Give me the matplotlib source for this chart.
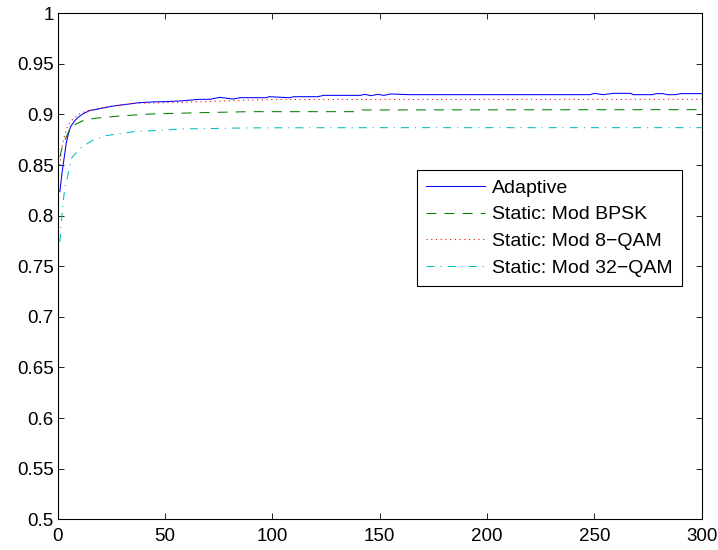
import matplotlib
matplotlib.use("Agg")
import matplotlib.pyplot as plt

plt.rcParams['font.family'] = ['Liberation Sans', 'DejaVu Sans']
plt.rcParams['lines.scale_dashes'] = False

# ---- data ----
adaptive_x = [1, 2, 3, 4, 5, 6, 8, 10, 12, 15, 18, 20, 25, 28, 32, 38, 45, 50, 58, 66, 71, 75.5,
              81.7, 85, 97, 98.6, 108, 110, 121, 124, 141, 143, 146, 149, 152, 155, 164,
              248, 250, 254, 259, 267, 268, 277, 279, 282, 284, 288, 290, 300]
adaptive_y = [0.8237, 0.842, 0.857, 0.872, 0.881, 0.888, 0.894, 0.898, 0.901, 0.904, 0.905, 0.906,
              0.908, 0.909, 0.910, 0.9117, 0.9125, 0.9127, 0.9135, 0.9150, 0.9150, 0.9170,
              0.9153, 0.9166, 0.9166, 0.9176, 0.9166, 0.9176, 0.9176, 0.9189, 0.9189, 0.9199,
              0.9186, 0.9199, 0.9189, 0.9203, 0.9196,
              0.9196, 0.9209, 0.9196, 0.9209, 0.9209, 0.9196, 0.9196, 0.9206, 0.9206, 0.9196,
              0.9196, 0.9206, 0.9206]

bpsk_x = [1, 2, 3.4, 5.7, 8.9, 11.9, 17.4, 30.6, 43, 66.3, 89.6, 139, 141, 300]
bpsk_y = [0.858, 0.867, 0.875, 0.886, 0.891, 0.894, 0.8963, 0.8988, 0.9005, 0.9018, 0.9028,
          0.9028, 0.9045, 0.9048]

qam8_x = [1, 2, 3.4, 4.9, 7.3, 10.4, 15, 22.8, 35, 58.5, 81.7, 100, 300]
qam8_y = [0.850, 0.868, 0.881, 0.890, 0.896, 0.901, 0.9045, 0.9077, 0.911, 0.912, 0.9137,
          0.9148, 0.9150]

qam32_x = [1, 2.3, 3.4, 4.2, 6.5, 10.4, 16.6, 22.8, 35.2, 58.5, 89.6, 150, 300]
qam32_y = [0.774, 0.809, 0.829, 0.835, 0.857, 0.8666, 0.875, 0.8792, 0.883, 0.8857, 0.8868,
           0.8870, 0.8870]

labels = ['Adaptive', 'Static: Mod BPSK', 'Static: Mod 8\u2212QAM', 'Static: Mod 32\u2212QAM']
x_ticks = [0, 50, 100, 150, 200, 250, 300]
y_ticks = [0.5, 0.55, 0.6, 0.65, 0.7, 0.75, 0.8, 0.85, 0.9, 0.95, 1.0]
y_tick_labels = ['0.5', '0.55', '0.6', '0.65', '0.7', '0.75', '0.8', '0.85', '0.9', '0.95', '1']

fig = plt.figure(figsize=(7.18, 5.5), dpi=100)
ax = fig.add_axes([57.7 / 718, 1 - 519.3 / 550, 644 / 718, 506 / 550])

lw = 0.75
ax.plot(adaptive_x, adaptive_y, color=(0, 0, 1), lw=lw, label=labels[0])
ax.plot(bpsk_x, bpsk_y, color=(0, 0.5, 0), lw=lw, linestyle=(0, (7.2, 5.8)), label=labels[1])
ax.plot(qam8_x, qam8_y, color=(1, 0, 0), lw=lw, linestyle=(0, (0.8, 2.6)), label=labels[2])
ax.plot(qam32_x, qam32_y, color=(0, 0.75, 0.75), lw=lw,
        linestyle=(0, (5.8, 4.3, 0.8, 4.3)), label=labels[3])

ax.set_xlim(0, 300)
ax.set_ylim(0.5, 1.0)
ax.set_xticks(x_ticks)
ax.set_xticklabels([str(t) for t in x_ticks])
ax.set_yticks(y_ticks)
ax.set_yticklabels(y_tick_labels)

fs = 13.5
ax.tick_params(axis='both', direction='in', length=4.3, width=0.6, labelsize=fs,
               top=True, right=True, colors='black')
ax.tick_params(axis='x', pad=6)
ax.tick_params(axis='y', pad=3)
for s in ax.spines.values():
    s.set_linewidth(0.8)
    s.set_color('black')

lfs = 14.0
leg = ax.legend(loc='upper left', bbox_to_anchor=(0.5584, 0.6903), fontsize=lfs,
                frameon=True, fancybox=False, shadow=False, framealpha=1,
                borderpad=0.46, handlelength=3.0, handletextpad=0.39,
                labelspacing=0.47, borderaxespad=0.0)
leg.get_frame().set_edgecolor('black')
leg.get_frame().set_linewidth(0.8)

fig.savefig('out.png', dpi=100)
